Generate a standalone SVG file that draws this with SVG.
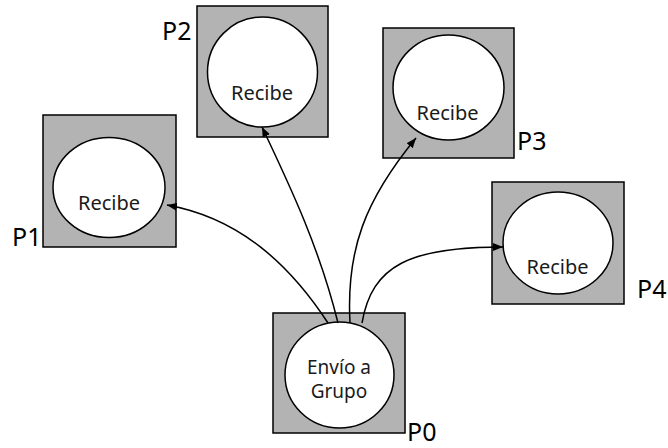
<svg xmlns="http://www.w3.org/2000/svg" width="668" height="448" viewBox="0 0 668 448">
<style>
.box{fill:#b3b3b3;stroke:#000;stroke-width:1.5}
.circ{fill:#fff;stroke:#000;stroke-width:1.5}
.t{font-family:"Noto Sans","DejaVu Sans",sans-serif;font-size:20px;fill:#1a1a1a;text-anchor:middle}
.t2{font-size:19px}
.lbl{font-family:"Noto Sans","DejaVu Sans",sans-serif;font-size:25px;fill:#000}
.c{fill:none;stroke:#000;stroke-width:1.5;marker-end:url(#ah)}
</style>
<defs>
<marker id="ah" viewBox="0 0 10 8" refX="10" refY="4" markerWidth="10" markerHeight="8" markerUnits="userSpaceOnUse" orient="auto">
<path d="M0,0 L10,4 L0,8 Z" fill="#000"/>
</marker>
</defs>
<rect x="0" y="0" width="668" height="448" fill="#fff"/>
<g id="P1">
<rect class="box" x="43" y="115" width="133" height="132"/>
<ellipse class="circ" cx="109" cy="187.5" rx="56" ry="50"/>
<text class="t" x="109" y="210">Recibe</text>
<text class="lbl" x="12" y="246">P1</text>
</g>
<g id="P2">
<rect class="box" x="197" y="6" width="131" height="131"/>
<ellipse class="circ" cx="262.5" cy="72" rx="55" ry="55"/>
<text class="t" x="262" y="100">Recibe</text>
<text class="lbl" x="162" y="40">P2</text>
</g>
<g id="P3">
<rect class="box" x="383" y="28" width="131" height="130"/>
<ellipse class="circ" cx="448.5" cy="87.5" rx="55.5" ry="52.5"/>
<text class="t" x="447.5" y="120">Recibe</text>
<text class="lbl" x="517" y="150">P3</text>
</g>
<g id="P4">
<rect class="box" x="492" y="182" width="132" height="122"/>
<ellipse class="circ" cx="558" cy="243" rx="55" ry="51"/>
<text class="t" x="557.5" y="274">Recibe</text>
<text class="lbl" x="637" y="298">P4</text>
</g>
<g id="P0">
<rect class="box" x="273" y="313" width="132" height="120"/>
<ellipse class="circ" cx="339.5" cy="375" rx="54.5" ry="53"/>
<text class="t t2" x="339" y="374">Envío a</text>
<text class="t t2" x="339" y="398">Grupo</text>
<text class="lbl" x="407" y="441">P0</text>
</g>
<g id="connectors">
<path class="c" d="M328,323 C290,265 240,218 167,205"/>
<path class="c" d="M338,323 C320,250 292,190 262,127"/>
<path class="c" d="M350,323 C346,250 365,200 416,138"/>
<path class="c" d="M362,323 C372,265 410,247 503,247"/>
</g>
</svg>
